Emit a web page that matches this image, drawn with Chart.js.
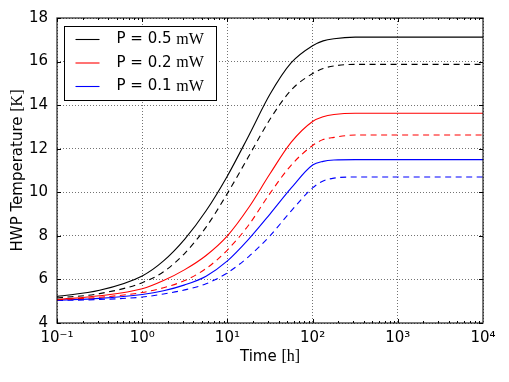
<!DOCTYPE html>
<html>
<head>
<meta charset="utf-8">
<script src="https://cdn.jsdelivr.net/npm/chart.js@4/dist/chart.umd.min.js"></script>
<style>
  html, body { margin: 0; padding: 0; background: #fff; }
  #wrap { width: 509px; height: 382px; }
</style>
</head>
<body>
<div id="wrap"><canvas id="hwpChart" width="509" height="382"></canvas></div>
<script>
// time axis (hours) and temperatures
var timeHours = [0.1, 0.316, 1, 1.78, 3.16, 5.62, 10, 17.8, 31.6, 56.2, 100, 133, 178, 316, 1000, 10000];

var p05Solid  = [5.22, 5.5, 6.16, 6.85, 7.85, 9.15, 10.75, 12.6, 14.5, 15.95, 16.73, 16.95, 17.05, 17.12, 17.12, 17.12];
var p05Dashed = [5.15, 5.35, 5.85, 6.35, 7.2, 8.4, 9.95, 11.65, 13.35, 14.7, 15.45, 15.68, 15.8, 15.87, 15.87, 15.87];
var p02Solid  = [5.08, 5.25, 5.57, 5.95, 6.45, 7.1, 8.0, 9.3, 10.85, 12.3, 13.25, 13.47, 13.57, 13.63, 13.63, 13.63];
var p02Dashed = [5.07, 5.18, 5.4, 5.62, 5.95, 6.5, 7.35, 8.5, 9.95, 11.25, 12.15, 12.42, 12.52, 12.63, 12.63, 12.63];
var p01Solid  = [5.05, 5.13, 5.31, 5.48, 5.75, 6.15, 6.85, 7.85, 9.0, 10.2, 11.25, 11.42, 11.48, 11.5, 11.5, 11.5];
var p01Dashed = [5.03, 5.08, 5.19, 5.33, 5.52, 5.8, 6.3, 7.05, 8.0, 9.15, 10.2, 10.52, 10.65, 10.7, 10.7, 10.7];

var powerLabels = ['P = 0.5 ', 'P = 0.2 ', 'P = 0.1 '];
var powerUnit = 'mW';
var lineColors = ['#000000', '#ff0000', '#0000ff'];

var xTickValues = [0.1, 1, 10, 100, 1000, 10000];
var xTickLabels = ['10\u207B\u00B9', '10\u2070', '10\u00B9', '10\u00B2', '10\u00B3', '10\u2074'];

var SANS = '"DejaVu Sans", sans-serif';
var SERIF = '"Liberation Serif", "DejaVu Serif", serif';

function pts(vals) {
    return timeHours.map(function (t, i) { return { x: t, y: vals[i] }; });
}

function makeSet(label, vals, color, dashed) {
    return {
        label: label,
        data: pts(vals),
        borderColor: color,
        backgroundColor: color,
        borderWidth: 1.1,
        borderDash: dashed ? [6, 4.5] : [],
        pointRadius: 0,
        cubicInterpolationMode: 'monotone',
        fill: false,
        showInLegend: !dashed
    };
}

// draws axis titles, frame, inward ticks and the boxed legend
var decorPlugin = {
    id: 'decor',
    afterDraw: function (chart) {
        var ctx = chart.ctx;
        var area = chart.chartArea;
        var xs = chart.scales.x, ys = chart.scales.y;
        ctx.save();

        // frame
        ctx.strokeStyle = 'rgba(0,0,0,0.8)';
        ctx.lineWidth = 1.3;
        ctx.setLineDash([]);
        ctx.strokeRect(area.left, area.top, area.right - area.left, area.bottom - area.top);

        // inward ticks
        ctx.lineWidth = 1;
        ctx.strokeStyle = '#000';
        ctx.beginPath();
        for (var d = -1; d < 4; d++) {
            for (var m = 1; m < 10; m++) {
                var v = m * Math.pow(10, d);
                var px = Math.round(xs.getPixelForValue(v)) + 0.5;
                var len = m === 1 ? 4 : 2;
                ctx.moveTo(px, area.bottom); ctx.lineTo(px, area.bottom - len);
                ctx.moveTo(px, area.top); ctx.lineTo(px, area.top + len);
            }
        }
        ys.ticks.forEach(function (t) {
            var py = Math.round(ys.getPixelForValue(t.value)) + 0.5;
            ctx.moveTo(area.left, py); ctx.lineTo(area.left + 4, py);
            ctx.moveTo(area.right, py); ctx.lineTo(area.right - 4, py);
        });
        ctx.stroke();

        // mixed-font text helper
        function mixed(parts, x, y) {
            var total = 0;
            parts.forEach(function (p) { ctx.font = p[1]; total += ctx.measureText(p[0]).width; });
            var cx = x - total / 2;
            parts.forEach(function (p) {
                ctx.font = p[1];
                ctx.fillText(p[0], cx, y);
                cx += ctx.measureText(p[0]).width;
            });
        }
        ctx.fillStyle = '#000';
        ctx.textBaseline = 'middle';
        ctx.textAlign = 'left';
        mixed([['Time ', '15px ' + SANS], ['[h]', '16px ' + SERIF]], (area.left + area.right) / 2, 357);

        ctx.save();
        ctx.translate(18, (area.top + area.bottom) / 2);
        ctx.rotate(-Math.PI / 2);
        mixed([['HWP Temperature ', '15px ' + SANS], ['[K]', '16px ' + SERIF]], 0, 0);
        ctx.restore();

        // legend
        var lx = area.left + 7.5, ly = area.top + 8.5;
        ctx.fillStyle = '#fff';
        ctx.fillRect(lx, ly, 152, 74);
        ctx.strokeStyle = '#000';
        ctx.lineWidth = 1;
        ctx.strokeRect(lx, ly, 152, 74);
        var shown = chart.data.datasets.filter(function (ds) { return ds.showInLegend; });
        shown.forEach(function (ds, i) {
            var ry = ly + 13 + i * 23.5;
            ctx.strokeStyle = ds.borderColor;
            ctx.lineWidth = 1.1;
            ctx.beginPath();
            ctx.moveTo(lx + 11, ry); ctx.lineTo(lx + 35, ry);
            ctx.stroke();
            ctx.fillStyle = '#000';
            var tx = lx + 52;
            ctx.font = '15px ' + SANS;
            ctx.fillText(powerLabels[i], tx, ry);
            tx += ctx.measureText(powerLabels[i]).width;
            ctx.font = '16px ' + SERIF;
            ctx.fillText(powerUnit, tx, ry);
        });
        ctx.restore();
    }
};

var hwpChart = new Chart(document.getElementById('hwpChart').getContext('2d'), {
    type: 'line',
    data: {
        datasets: [
            makeSet(powerLabels[0] + powerUnit, p05Solid, lineColors[0], false),
            makeSet(powerLabels[0] + powerUnit, p05Dashed, lineColors[0], true),
            makeSet(powerLabels[1] + powerUnit, p02Solid, lineColors[1], false),
            makeSet(powerLabels[1] + powerUnit, p02Dashed, lineColors[1], true),
            makeSet(powerLabels[2] + powerUnit, p01Solid, lineColors[2], false),
            makeSet(powerLabels[2] + powerUnit, p01Dashed, lineColors[2], true)
        ]
    },
    options: {
        responsive: false,
        animation: false,
        devicePixelRatio: 1,
        layout: { padding: { left: 0, top: 18, right: 26, bottom: 0 } },
        plugins: {
            legend: { display: false },
            tooltip: { enabled: false }
        },
        scales: {
            x: {
                type: 'logarithmic',
                min: 0.1,
                max: 10000,
                afterBuildTicks: function (scale) {
                    scale.ticks = xTickValues.map(function (v) { return { value: v }; });
                },
                afterFit: function (scale) { scale.height = 59; },
                ticks: {
                    autoSkip: false,
                    maxRotation: 0,
                    padding: 6,
                    color: '#000',
                    font: { family: SANS, size: 15 },
                    callback: function (v, i) { return xTickLabels[i]; }
                },
                grid: { color: 'rgba(0,0,0,0.55)', lineWidth: 1, drawTicks: false },
                border: { display: false, dash: [1, 2] }
            },
            y: {
                min: 4,
                max: 18,
                afterFit: function (scale) { scale.width = 57; },
                ticks: {
                    stepSize: 2,
                    padding: 9,
                    color: '#000',
                    font: { family: SANS, size: 15 }
                },
                grid: { color: 'rgba(0,0,0,0.55)', lineWidth: 1, drawTicks: false },
                border: { display: false, dash: [1, 2] }
            }
        }
    },
    plugins: [decorPlugin]
});
</script>
</body>
</html>
